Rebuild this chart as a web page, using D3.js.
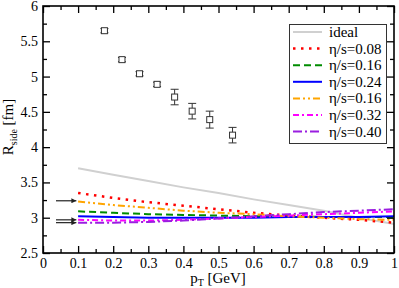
<!DOCTYPE html>
<html><head><meta charset="utf-8">
<script src="https://cdn.jsdelivr.net/npm/d3@7"></script>
<style>body{margin:0;background:#fff}svg{display:block}</style>
</head><body><svg id="c" width="399" height="288" font-family="'Liberation Serif', 'Times New Roman', serif"></svg>
<script>
const pT = [0.1,0.2,0.3,0.4,0.5,0.6,0.7,0.8,0.9,1.0];
const ideal = [3.70,3.61,3.52,3.43,3.35,3.26,3.18,3.10,3.00,2.91];
const eta008 = [3.35,3.28,3.22,3.17,3.12,3.07,3.03,3.00,2.97,2.93];
const eta016 = [3.09,3.07,3.05,3.04,3.03,3.02,3.02,3.01,3.01,3.01];
const eta024 = [3.02,3.01,3.00,3.00,3.00,3.00,3.01,3.01,3.01,3.02];
const eta016b = [3.23,3.18,3.14,3.10,3.07,3.05,3.02,3.00,2.98,2.97];
const eta032 = [2.97,2.96,2.96,2.97,2.99,3.01,3.03,3.05,3.07,3.09];
const eta040 = [2.93,2.93,2.94,2.96,2.99,3.02,3.05,3.08,3.10,3.12];
const dataX = [0.175,0.225,0.275,0.325,0.375,0.425,0.475,0.54];
const dataY = [5.65,5.24,5.04,4.89,4.71,4.51,4.39,4.17];
const dataErr = [0.03,0.03,0.03,0.03,0.11,0.11,0.12,0.11];
const arrowY = [3.24,2.97,2.93];
const legendLabels = ["ideal","η/s=0.08","η/s=0.16","η/s=0.24","η/s=0.16","η/s=0.32","η/s=0.40"];
const xTicks = [0,0.1,0.2,0.3,0.4,0.5,0.6,0.7,0.8,0.9,1];
const xTickLabels = ["0","0.1","0.2","0.3","0.4","0.5","0.6","0.7","0.8","0.9","1"];
const yTicks = [2.5,3,3.5,4,4.5,5,5.5,6];
const yTickLabels = ["2.5","3","3.5","4","4.5","5","5.5","6"];

const FONT = "'Liberation Serif', 'Times New Roman', serif";
const series = [
  {v: ideal, color:"#d0d0d0", dash:null, w:2},
  {v: eta008, color:"#ff0000", dash:"2.5,5.5", w:2.5},
  {v: eta016, color:"#008c00", dash:"7,4", w:2},
  {v: eta024, color:"#0000ff", dash:null, w:2},
  {v: eta016b, color:"#ffa500", dash:"7,3,2,3,2,3", w:2},
  {v: eta032, color:"#ff00ff", dash:"6,3,2,3", w:2},
  {v: eta040, color:"#9a1ee0", dash:"9,3,2,3", w:2}
];

const svg = d3.select("#c");
const L=43,R=394,T=6,B=253;
const x = d3.scaleLinear().domain([0,1]).range([L,R]);
const y = d3.scaleLinear().domain([2.5,6]).range([B,T]);

const line = d3.line().x((d,i)=>x(pT[i])).y(d=>y(d));
series.forEach(s=>{
  svg.append("path").attr("d",line(s.v)).attr("fill","none")
    .attr("stroke",s.color).attr("stroke-width",s.w)
    .attr("stroke-dasharray",s.dash);
});

const g = svg.append("g").attr("stroke","#333").attr("fill","none").attr("stroke-width",1);
dataX.forEach((dx,i)=>{
  const cx=x(dx), cy=y(dataY[i]), y1=y(dataY[i]+dataErr[i]), y2=y(dataY[i]-dataErr[i]);
  g.append("line").attr("x1",cx).attr("x2",cx).attr("y1",y1).attr("y2",y2);
  g.append("line").attr("x1",cx-4).attr("x2",cx+4).attr("y1",y1).attr("y2",y1);
  g.append("line").attr("x1",cx-4).attr("x2",cx+4).attr("y1",y2).attr("y2",y2);
  g.append("rect").attr("x",cx-3).attr("y",cy-3).attr("width",6).attr("height",6).attr("fill","#fff");
});

svg.append("defs").append("marker").attr("id","ah").attr("viewBox","0 0 10 10")
  .attr("refX",10).attr("refY",5).attr("markerWidth",7).attr("markerHeight",5)
  .attr("markerUnits","userSpaceOnUse").attr("orient","auto")
  .append("path").attr("d","M0,0L10,5L0,10z").attr("fill","#222");
arrowY.forEach(v=>{
  svg.append("line").attr("x1",56).attr("x2",x(0.095)).attr("y1",y(v)).attr("y2",y(v))
    .attr("stroke","#222").attr("stroke-width",1.2).attr("marker-end","url(#ah)");
});

function ticks(axisFn, scale, vals, size, pos, fmt){
  const a = axisFn(scale).tickValues(vals).tickSize(size).tickSizeOuter(0);
  if(fmt) a.tickFormat((d,i)=>fmt[i]); else a.tickFormat("");
  const gg = svg.append("g").attr("transform",pos).call(a);
  gg.attr("font-family",FONT);
  gg.select(".domain").remove();
  gg.selectAll(".tick line").attr("stroke","#000").attr("stroke-width",1.3);
  return gg;
}
const xMinor = d3.range(0,21).map(i=>i*0.05).filter((d,i)=>i%2===1);
const yMinor = d3.range(0,15).map(i=>2.5+i*0.25).filter((d,i)=>i%2===1);
const bx = ticks(d3.axisBottom,x,xTicks,-7,`translate(0,${B})`,xTickLabels);
bx.attr("font-size",14);
bx.selectAll(".tick text").attr("y",5).attr("fill","#000").attr("font-family",FONT);
ticks(d3.axisBottom,x,xMinor,-4,`translate(0,${B})`);
ticks(d3.axisTop,x,xTicks,-7,`translate(0,${T})`);
ticks(d3.axisTop,x,xMinor,-4,`translate(0,${T})`);
const ly = ticks(d3.axisLeft,y,yTicks,-7,`translate(${L},0)`,yTickLabels);
ly.attr("font-size",14);
ly.selectAll(".tick text").attr("x",-5).attr("fill","#000").attr("font-family",FONT);
ticks(d3.axisLeft,y,yMinor,-4,`translate(${L},0)`);
ticks(d3.axisRight,y,yTicks,-7,`translate(${R},0)`);
ticks(d3.axisRight,y,yMinor,-4,`translate(${R},0)`);

svg.append("rect").attr("x",L).attr("y",T).attr("width",R-L).attr("height",B-T)
  .attr("fill","none").attr("stroke","#000").attr("stroke-width",1.6);

const lg = svg.append("g");
lg.append("rect").attr("x",289.5).attr("y",24.5).attr("width",97).attr("height",119)
  .attr("fill","#fff").attr("stroke","#333").attr("stroke-width",1);
series.forEach((s,i)=>{
  const yy = 32 + i*16.6;
  lg.append("line").attr("x1",293).attr("x2",322).attr("y1",yy).attr("y2",yy)
    .attr("stroke",s.color).attr("stroke-width",s.w).attr("stroke-dasharray",s.dash);
  lg.append("text").attr("x",329).attr("y",yy+5).attr("font-size",15).attr("font-family",FONT).text(legendLabels[i]);
});

const xt = svg.append("text").attr("x",218).attr("y",283).attr("text-anchor","middle").attr("font-size",15).attr("font-family",FONT);
xt.append("tspan").text("p");
xt.append("tspan").attr("font-size",10).attr("dy",3).text("T");
xt.append("tspan").attr("dy",-3).text(" [GeV]");
const yt = svg.append("text").attr("transform","translate(13,127) rotate(-90)").attr("text-anchor","middle").attr("font-size",15).attr("font-family",FONT);
yt.append("tspan").text("R");
yt.append("tspan").attr("font-size",10).attr("dy",4).text("side");
yt.append("tspan").attr("dy",-4).text(" [fm]");
</script></body></html>
